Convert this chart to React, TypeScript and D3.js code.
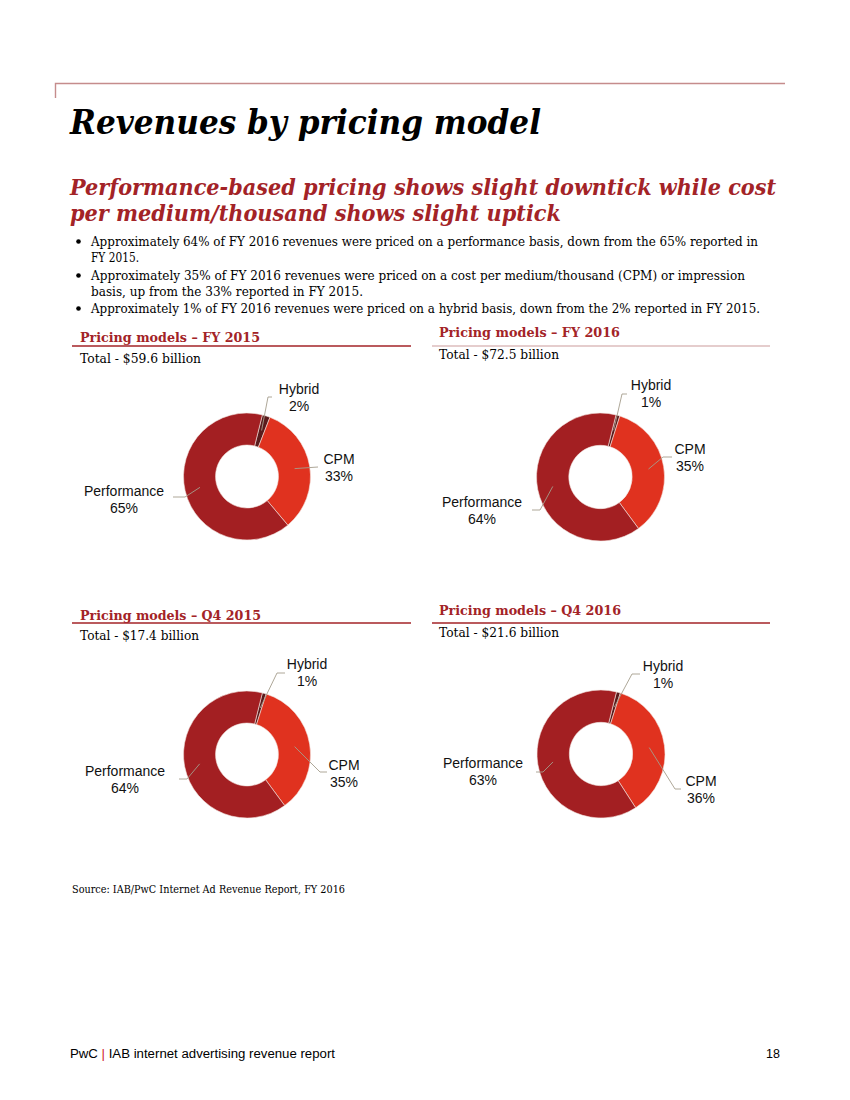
import React from "react";
import * as d3 from "d3";

// ---------- data ----------
const categories = ["Hybrid", "CPM", "Performance"];
const panelTitles = [
  "Pricing models – FY 2015",
  "Pricing models – FY 2016",
  "Pricing models – Q4 2015",
  "Pricing models – Q4 2016",
];
const panelTotals = [
  "Total - $59.6 billion",
  "Total - $72.5 billion",
  "Total - $17.4 billion",
  "Total - $21.6 billion",
];
const fy2015 = [2, 33, 65];
const fy2016 = [1, 35, 64];
const q42015 = [1, 35, 64];
const q42016 = [1, 36, 63];
const panelValues = [fy2015, fy2016, q42015, q42016];

const titleText = "Revenues by pricing model";
const subtitleLines = [
  "Performance-based pricing shows slight downtick while cost",
  "per medium/thousand shows slight uptick",
];
const bulletLines = [
  { text: "Approximately 64% of FY 2016 revenues were priced on a performance basis, down from the 65% reported in", bullet: true },
  { text: "FY 2015.", bullet: false },
  { text: "Approximately 35% of FY 2016 revenues were priced on a cost per medium/thousand (CPM) or impression", bullet: true },
  { text: "basis, up from the 33% reported in FY 2015.", bullet: false },
  { text: "Approximately 1% of FY 2016 revenues were priced on a hybrid basis, down from the 2% reported in FY 2015.", bullet: true },
];
const sourceText = "Source: IAB/PwC Internet Ad Revenue Report, FY 2016";
const pageNumber = "18";

// ---------- styles / layout ----------
const colors = ["#5a1b1c", "#e0321f", "#a31f22"];
const RED = "#a32327";
const LEADER = "#a59d8c";
const SERIF = "'DejaVu Serif', Georgia, serif";
const SANS = "'Liberation Sans', Arial, sans-serif";

const bulletLayout = [
  { y: 246, w: 667 },
  { y: 262, w: 48 },
  { y: 280, w: 654 },
  { y: 296, w: 272 },
  { y: 313, w: 669 },
];

type LabelPos = { tx: number; ty: number; ex: number; ey: number; hx: number };
const panelLayout: {
  hx: number; hy: number; hw: number; lineX1: number; lineX2: number; lineY: number;
  lineColor: string; ty: number; tw: number; cx: number; cy: number; R: number;
  labels: LabelPos[];
}[] = [
  {
    hx: 80, hy: 342, hw: 180, lineX1: 72, lineX2: 411, lineY: 346, lineColor: RED,
    ty: 363, tw: 121, cx: 247, cy: 476.5, R: 63.5,
    labels: [
      { tx: 299, ty: 394, ex: 268, ey: 397, hx: 272 },
      { tx: 339, ty: 464, ex: 318, ey: 467, hx: 318 },
      { tx: 124, ty: 496, ex: 185, ey: 497, hx: 173 },
    ],
  },
  {
    hx: 439, hy: 337, hw: 181, lineX1: 432, lineX2: 770, lineY: 346, lineColor: "#dcbcbc",
    ty: 359, tw: 120, cx: 600.5, cy: 477, R: 64,
    labels: [
      { tx: 651, ty: 390, ex: 622, ey: 394, hx: 627 },
      { tx: 690, ty: 454, ex: 663, ey: 457, hx: 672 },
      { tx: 482, ty: 507, ex: 540, ey: 510, hx: 532 },
    ],
  },
  {
    hx: 80, hy: 620, hw: 181, lineX1: 72, lineX2: 411, lineY: 623, lineColor: RED,
    ty: 640, tw: 119, cx: 247, cy: 754.5, R: 63.5,
    labels: [
      { tx: 307, ty: 669, ex: 277, ey: 673, hx: 285 },
      { tx: 344, ty: 770, ex: 320, ey: 772, hx: 327 },
      { tx: 125, ty: 776, ex: 187, ey: 779, hx: 179 },
    ],
  },
  {
    hx: 439, hy: 615, hw: 182, lineX1: 432, lineX2: 770, lineY: 623, lineColor: RED,
    ty: 637, tw: 120, cx: 601, cy: 754, R: 64,
    labels: [
      { tx: 663, ty: 671, ex: 632, ey: 674, hx: 640 },
      { tx: 701, ty: 786, ex: 675, ey: 789, hx: 681 },
      { tx: 483, ty: 768, ex: 543, ey: 772, hx: 536 },
    ],
  },
];

const START = (14 * Math.PI) / 180;

function Donut({ values, layout }: { values: number[]; layout: (typeof panelLayout)[number] }) {
  const pie = d3
    .pie<number>()
    .sort(null)
    .value((d) => d)
    .startAngle(START)
    .endAngle(START + 2 * Math.PI);
  const arcs = pie(values);
  const arc = d3
    .arc<d3.PieArcDatum<number>>()
    .innerRadius(layout.R * 0.495)
    .outerRadius(layout.R);
  const leaderArc = d3
    .arc<d3.PieArcDatum<number>>()
    .innerRadius(layout.R * 0.62)
    .outerRadius(layout.R * 0.9);
  return (
    <g>
      <g transform={`translate(${layout.cx},${layout.cy})`}>
        {arcs.map((a, i) => (
          <path key={i} d={arc(a) || ""} fill={colors[i]} stroke="#f4e6e0" strokeWidth={0.6} />
        ))}
      </g>
      {arcs.map((a, i) => {
        const [sx, sy] = leaderArc.centroid(a);
        const L = layout.labels[i];
        const pts = [
          [layout.cx + sx, layout.cy + sy],
          [L.ex, L.ey],
          [L.hx, L.ey],
        ];
        const line = d3.line()(pts as [number, number][]) || "";
        return (
          <g key={i}>
            <path d={line} fill="none" stroke={LEADER} strokeWidth={0.9} />
            <text x={L.tx} y={L.ty} textAnchor="middle" fontFamily={SANS} fontSize={14} fill="#111">
              {categories[i]}
            </text>
            <text x={L.tx} y={L.ty + 16.5} textAnchor="middle" fontFamily={SANS} fontSize={14} fill="#111">
              {d3.format("d")(values[i])}%
            </text>
          </g>
        );
      })}
    </g>
  );
}

export default function App() {
  return (
    <div style={{ position: "absolute", left: 0, top: 0 }}>
      <svg width={850} height={1100} viewBox="0 0 850 1100" style={{ display: "block", background: "#fff" }}>
        {/* top rule */}
        <path d="M55.5,98 V83.5 H785" fill="none" stroke="#c58c8c" strokeWidth={1.4} />
        {/* title */}
        <text x={70} y={134} fontFamily={SERIF} fontWeight="bold" fontStyle="italic" fontSize={34}
          textLength={471} lengthAdjust="spacingAndGlyphs" fill="#000">
          {titleText}
        </text>
        {subtitleLines.map((s, i) => (
          <text key={i} x={70} y={195 + i * 25.5} fontFamily={SERIF} fontWeight="bold" fontStyle="italic"
            fontSize={22} textLength={i === 0 ? 706 : 491} lengthAdjust="spacingAndGlyphs" fill={RED}>
            {s}
          </text>
        ))}
        {bulletLines.map((b, i) => (
          <g key={i}>
            {b.bullet && <circle cx={78.5} cy={bulletLayout[i].y - 4.5} r={2.3} fill="#000" />}
            <text x={91} y={bulletLayout[i].y} fontFamily={SERIF} fontSize={13}
              textLength={bulletLayout[i].w} lengthAdjust="spacingAndGlyphs" fill="#000">
              {b.text}
            </text>
          </g>
        ))}
        {panelLayout.map((p, i) => (
          <g key={i}>
            <text x={p.hx} y={p.hy} fontFamily={SERIF} fontWeight="bold" fontSize={13.5}
              textLength={p.hw} lengthAdjust="spacingAndGlyphs" fill={RED}>
              {panelTitles[i]}
            </text>
            <line x1={p.lineX1} x2={p.lineX2} y1={p.lineY} y2={p.lineY} stroke={p.lineColor} strokeWidth={1.3} />
            <text x={p.hx} y={p.ty} fontFamily={SERIF} fontSize={13.5}
              textLength={p.tw} lengthAdjust="spacingAndGlyphs" fill="#000">
              {panelTotals[i]}
            </text>
            <Donut values={panelValues[i]} layout={p} />
          </g>
        ))}
        <text x={72} y={893} fontFamily={SERIF} fontSize={11} textLength={273} lengthAdjust="spacingAndGlyphs" fill="#000">
          {sourceText}
        </text>
        <text x={70} y={1058} fontFamily={SANS} fontSize={12.5} textLength={265} lengthAdjust="spacingAndGlyphs" fill="#000">
          PwC <tspan fill="#d0202a">|</tspan> IAB internet advertising revenue report
        </text>
        <text x={780} y={1058} textAnchor="end" fontFamily={SANS} fontSize={12.5} fill="#000">
          {pageNumber}
        </text>
      </svg>
    </div>
  );
}
